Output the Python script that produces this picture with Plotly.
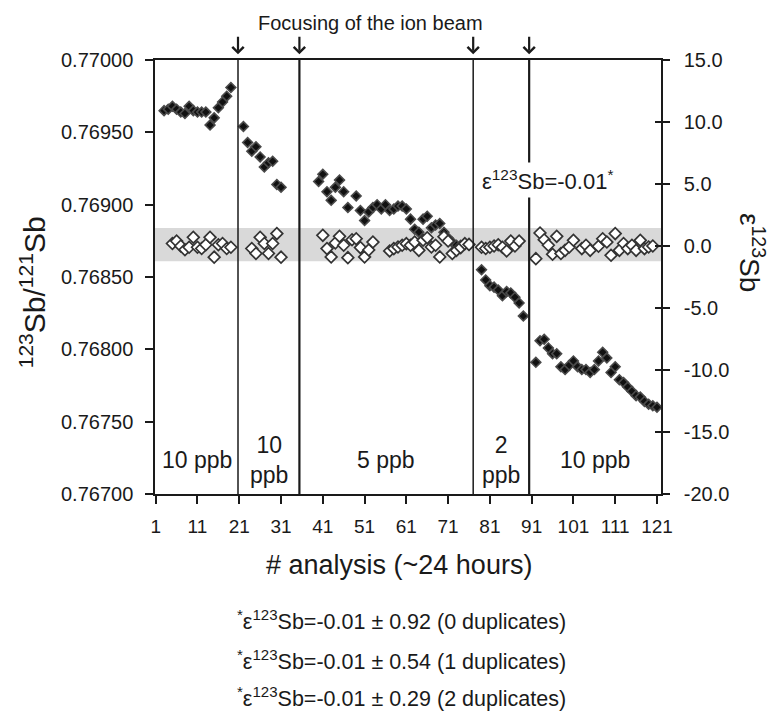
import plotly.graph_objects as go

# ---------------- data ----------------
black_x = [3, 4, 5, 6, 7, 8, 9, 10, 11, 12, 13, 14, 15, 16, 17, 18, 19,
           22, 23, 24, 25, 26, 27, 28, 29, 30, 31,
           40, 41, 42, 43, 44, 45, 46, 47, 49, 50, 51, 52, 53, 54, 55, 56, 57,
           58, 59, 60, 61, 62, 63, 64, 65, 66, 67, 68, 69, 70, 71, 72, 73, 74, 75, 76,
           79, 80, 81, 82, 83, 84, 85, 86, 87, 88, 89,
           92, 93, 94, 95, 96, 97, 98, 99, 100, 101, 102, 103, 104, 105, 106, 107,
           108, 109, 110, 111, 112, 113, 114, 115, 116, 117, 118, 119, 120, 121]
black_ratio = [0.76965, 0.76966, 0.76968, 0.76966, 0.76964, 0.76963, 0.76968, 0.76965,
               0.76964, 0.76964, 0.76964, 0.76955, 0.76960, 0.76967, 0.76971, 0.76975, 0.76981,
               0.76954, 0.76943, 0.76937, 0.76940, 0.76933, 0.76926, 0.76929, 0.76930,
               0.76914, 0.76912,
               0.76916, 0.76921, 0.76909, 0.76903, 0.76912, 0.76917, 0.76909, 0.76898,
               0.76906, 0.76896, 0.76889, 0.76895, 0.76898, 0.76900, 0.76897, 0.76900, 0.76896,
               0.76897, 0.76899, 0.76899, 0.76897, 0.76890, 0.76883, 0.76881, 0.76890,
               0.76892, 0.76884, 0.76886, 0.76887, 0.76881, 0.76877, 0.76874, 0.76872,
               0.76872, 0.76873, 0.76872,
               0.76855, 0.76848, 0.76844, 0.76843, 0.76841, 0.76837, 0.76840, 0.76839,
               0.76836, 0.76832, 0.76823,
               0.76791, 0.76806, 0.76807, 0.76801, 0.76797, 0.76797, 0.76788, 0.76786,
               0.76789, 0.76792, 0.76788, 0.76786, 0.76786, 0.76784, 0.76786, 0.76792,
               0.76798, 0.76794, 0.76784, 0.76788, 0.76779, 0.76777, 0.76774, 0.76771,
               0.76768, 0.76767, 0.76764, 0.76762, 0.76761, 0.76760]

white_x = [5, 6, 7, 8, 9, 10, 11, 12, 13, 14, 15, 16, 17, 18, 19,
           24, 25, 26, 27, 28, 29, 30, 31,
           41, 42, 43, 44, 45, 46, 47, 48, 49, 50, 51, 52, 53,
           57, 58, 59, 60, 61, 62, 63, 64, 65, 66, 67, 68, 69, 70, 71, 72, 73, 74, 75, 76,
           79, 80, 81, 82, 83, 84, 85, 86, 87, 88,
           92, 93, 94, 95, 96, 97, 98, 99, 100, 101, 103, 104, 105, 107, 108, 109,
           110, 111, 112, 113, 114, 115, 116, 117, 118, 119, 120]
white_eps = [0.2, 0.4, 0.0, -0.3, -0.1, 0.7, -0.1, -0.2, 0.1, 0.7, -0.9, 0.1, 0.2, -0.2, -0.1,
             -0.2, -0.6, 0.7, 0.2, -0.6, 0.2, 1.0, -0.9,
             0.86, -0.21, -0.88, 0.24, 0.78, 0.06, -0.94, 0.51, 0.59, -0.13, -0.88, -0.32, 0.32,
             -0.40, -0.21, -0.08, 0.06, 0.19, 0.06, 0.32, -0.35, 0.46, 0.67, -0.08, 0.06,
             -0.88, 0.75, 0.40, -0.61, -0.35, -0.13, 0.19, 0.13,
             -0.1, -0.2, -0.1, 0.0, 0.1, -0.1, -0.4, 0.4, 0.0, 0.4,
             -1.02, 1.05, 0.51, 0.06, -0.67, 0.78, -0.61, -0.35, -0.08, 0.46, -0.21, 0.06,
             -0.35, -0.02, 0.59, 0.32, -0.75, 1.0, -0.35, 0.2, -0.21, 0.06, -0.35, 0.46,
             -0.21, -0.08, 0.0]

focus_x = [20.7, 35.4, 77.0, 90.4]
section_labels = ["10 ppb", "10<br>ppb", "5 ppb", "2<br>ppb", "10 ppb"]
band_eps = [-1.23, 1.45]

x_range = [0.83, 121.96]
x_ticks = [1, 11, 21, 31, 41, 51, 61, 71, 81, 91, 101, 111, 121]
ratio_ticks = [0.7670, 0.7675, 0.7680, 0.7685, 0.7690, 0.7695, 0.7700]
ratio_ticktext = ["0.76700", "0.76750", "0.76800", "0.76850", "0.76900", "0.76950", "0.77000"]
eps_ticks = [-20, -15, -10, -5, 0, 5, 10, 15]
eps_ticktext = ["-20.0", "-15.0", "-10.0", "-5.0", "0.0", "5.0", "10.0", "15.0"]

footnotes = [
    "<sup>*</sup>ε<sup>123</sup>Sb=-0.01 ± 0.92 (0 duplicates)",
    "<sup>*</sup>ε<sup>123</sup>Sb=-0.01 ± 0.54 (1 duplicates)",
    "<sup>*</sup>ε<sup>123</sup>Sb=-0.01 ± 0.29 (2 duplicates)",
]

FONT = "Liberation Sans, Arial, Helvetica, sans-serif"
INK = "#1a1a1a"

fig = go.Figure()

fig.add_trace(go.Scatter(
    x=black_x, y=black_ratio, mode="markers", yaxis="y",
    marker=dict(symbol="diamond", size=7.5, color="#111111",
                line=dict(color="#4a4a4a", width=1.6)),
    showlegend=False, hoverinfo="skip"))

fig.add_trace(go.Scatter(
    x=white_x, y=white_eps, mode="markers", yaxis="y2",
    marker=dict(symbol="diamond", size=9, color="white",
                line=dict(color="#333333", width=1.7)),
    showlegend=False, hoverinfo="skip"))

# empty trace that only activates the inner-tick copy of the right axis
fig.add_trace(go.Scatter(x=[None], y=[None], yaxis="y3", mode="markers",
                         showlegend=False, hoverinfo="skip"))

shapes = [dict(type="rect", xref="paper", yref="y2", x0=0, x1=1,
               y0=band_eps[0], y1=band_eps[1], fillcolor="#d9d9d9",
               line=dict(width=0), layer="below")]
widths = [1.5, 2.2, 1.5, 2.2]
for fx, w in zip(focus_x, widths):
    shapes.append(dict(type="line", xref="x", yref="paper", x0=fx, x1=fx,
                       y0=0, y1=1, line=dict(color=INK, width=w), layer="above"))

annotations = []
for fx in focus_x:
    annotations.append(dict(x=fx, y=1.013, xref="x", yref="paper", text="",
                            showarrow=True, ax=0, ay=-19, arrowhead=4,
                            arrowsize=1, arrowwidth=2.2, arrowcolor=INK))


def label(x, y, text, size, xref="paper", yref="paper", **kw):
    d = dict(x=x, y=y, xref=xref, yref=yref, text=text, showarrow=False,
             xanchor="center", yanchor="middle",
             font=dict(size=size, color=INK, family=FONT))
    d.update(kw)
    annotations.append(d)


label(0.425, 1.085, "Focusing of the ion beam", 20)

bounds = [x_range[0]] + focus_x + [x_range[1]]
for i, lab in enumerate(section_labels):
    cx = (bounds[i] + bounds[i + 1]) / 2
    label(cx, 0.078, lab, 23, xref="x")

label(94.9, 0.7235, "ε<sup>123</sup>Sb=-0.01<sup>*</sup>", 22, xref="x",
      bgcolor="white", borderpad=3)

label(0.482, -0.1636, "# analysis (~24 hours)", 27)
label(-0.241, 0.465, "<sup>123</sup>Sb/<sup>121</sup>Sb", 30, textangle=-90)
label(1.18, 0.5576, "ε<sup>123</sup>Sb", 28, textangle=90)

for yv, txt in zip([-0.290, -0.3825, -0.4677], footnotes):
    label(0.488, yv, txt, 21.5)

fig.update_layout(
    width=772, height=713,
    margin=dict(l=155, r=111, t=60, b=219),
    paper_bgcolor="white", plot_bgcolor="white",
    font=dict(family=FONT, color=INK),
    shapes=shapes, annotations=annotations,
    xaxis=dict(range=x_range, tickvals=x_ticks, ticks="outside", ticklen=8,
               tickwidth=1.5, tickcolor=INK, showline=True, linecolor=INK,
               linewidth=1.5, mirror=True, showgrid=False, zeroline=False,
               tickfont=dict(size=19, color=INK, family=FONT),
               ticklabelstandoff=6),
    yaxis=dict(range=[0.767, 0.770], tickvals=ratio_ticks, ticktext=ratio_ticktext,
               ticks="outside", ticklen=8, tickwidth=1.5, tickcolor=INK,
               showline=True, linecolor=INK, linewidth=1.5, showgrid=False,
               zeroline=False, tickfont=dict(size=20, color=INK, family=FONT),
               ticklabelstandoff=8),
    yaxis2=dict(range=[-20, 15], tickvals=eps_ticks, ticktext=eps_ticktext,
                overlaying="y", side="right", ticks="outside", ticklen=7,
                tickwidth=1.5, tickcolor=INK, showline=True, linecolor=INK,
                linewidth=1.5, showgrid=False, zeroline=False,
                tickfont=dict(size=20, color=INK, family=FONT),
                ticklabelstandoff=10),
    yaxis3=dict(range=[-20, 15], tickvals=eps_ticks, overlaying="y", side="right",
                ticks="inside", ticklen=6, tickwidth=1.5, tickcolor=INK,
                showticklabels=False, showline=False, showgrid=False,
                zeroline=False),
)

fig.write_html("out.html")
